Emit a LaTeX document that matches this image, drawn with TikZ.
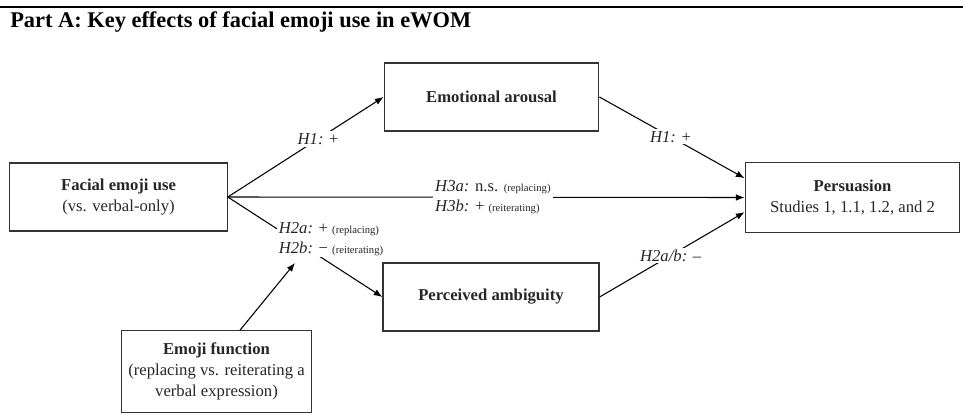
\documentclass[tikz,border=0pt]{standalone}
\usepackage{fontspec}
\setmainfont{Liberation Serif}
\usetikzlibrary{arrows.meta}

\newcommand{\smalltag}[1]{{\fontsize{8}{9}\selectfont #1}}

\begin{document}
\begin{tikzpicture}[x=0.75pt, y=-0.75pt,
  box/.style={draw=black!80, line width=0.9pt, align=center, inner sep=0pt, text=black!85, font=\fontsize{12.5}{16}\selectfont},
  lab/.style={fill=white, inner sep=1.5pt, align=left, text=black!85, font=\fontsize{12.5}{14.5}\selectfont},
  arr/.style={draw, line width=0.8pt, -{Latex[length=6.5pt,width=5pt]}}]

 \useasboundingbox (0,0) rectangle (963,414);

 % heading
 \draw[line width=1.4pt] (0,7) -- (963,7);
 \node[anchor=base west, inner sep=0pt, font=\bfseries\fontsize{16.8}{19}\selectfont] (title) at (10,27) {Part A: Key effects of facial emoji use in eWOM};

 % boxes
 \node[box, minimum width=163pt, minimum height=51pt] (facial) at (118.5,197) {\textbf{Facial emoji use}\\(vs. verbal-only)};
 \node[box, minimum width=161pt, minimum height=51pt] (arousal) at (491.5,97) {\textbf{Emotional arousal}};
 \node[box, minimum width=162pt, minimum height=51pt] (ambig) at (491,297) {\textbf{Perceived ambiguity}};
 \node[box, minimum width=161pt, minimum height=52pt] (persu) at (852.5,197.5) {\textbf{Persuasion}\\Studies 1, 1.1, 1.2, and 2};
 \node[box, minimum width=142pt, minimum height=61pt] (emofn) at (216.5,371.5) {\textbf{Emoji function}\\(replacing vs. reiterating a\\verbal expression)};

 % ends on the persuasion box
 \coordinate (persuTop) at ([yshift=14.5pt]persu.west);
 \coordinate (persuLow) at ([yshift=-11pt]persu.west);

 % lines
 \foreach \source/\dest/\where/\txt in {
    facial.east/arousal.west/0.58/{\textit{H1:} +},
    arousal.east/persuTop/0.49/{\textit{H1:} +},
    facial.east/persu.west/0.513/{\textit{H3a:} n.s. \smalltag{(replacing)}\\\textit{H3b:} + \smalltag{(reiterating)}},
    ambig.east/persuLow/0.49/{\textit{H2a/b:} –}}
   \path[arr] (\source) -- node[lab, pos=\where] {\txt} (\dest);

 %moderation
 \path[arr] (facial.east) -- (ambig.west);
 \node[lab] (h2lab) at (331,239) {\textit{H2a:} + \smalltag{(replacing)}\\\textit{H2b:} − \smalltag{(reiterating)}};
 \path[arr] ([xshift=17.6pt]emofn.north) -- ([xshift=-27pt,yshift=-4pt]h2lab.south);

\end{tikzpicture}
\end{document}
